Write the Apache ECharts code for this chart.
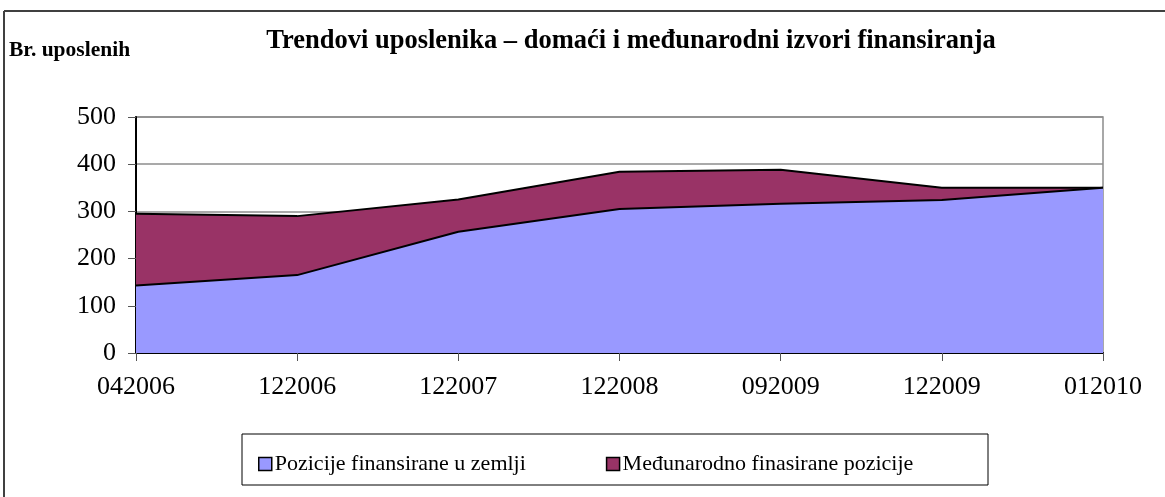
<!DOCTYPE html>
<html>
<head>
<meta charset="utf-8">
<script src="https://cdn.jsdelivr.net/npm/echarts@6/dist/echarts.min.js"></script>
<style>
  html, body { margin: 0; padding: 0; background: #fff; }
  #chart { width: 1165px; height: 497px; }
</style>
</head>
<body>
<div id="chart"></div>
<script>
// Employment periods (MMYYYY) and headcount by funding source
const categories = ['042006', '122006', '122007', '122008', '092009', '122009', '012010'];
const domesticPositions = [143, 165, 257, 305, 316, 324, 350];
const internationalPositions = [152, 125, 68, 79, 72, 26, 0];
const yTicks = { min: 0, max: 500, interval: 100 };

const seriesNames = ['Pozicije finansirane u zemlji', 'Međunarodno finasirane pozicije'];
const serif = '"Liberation Serif", "Times New Roman", serif';

const chart = echarts.init(document.getElementById('chart'), null, { renderer: 'canvas' });

chart.setOption({
  animation: false,
  backgroundColor: '#fff',
  title: {
    text: 'Trendovi uposlenika – domaći i međunarodni izvori finansiranja',
    left: 626,
    textAlign: 'center',
    top: 23,
    textStyle: { fontFamily: serif, fontSize: 26.5, fontWeight: 'bold', color: '#000' }
  },
  grid: {
    left: 136, top: 117, width: 967, height: 236,
    show: true, borderColor: '#8c8c8c', borderWidth: 1.5, backgroundColor: '#fff'
  },
  legend: {
    left: 253, top: 448,
    itemGap: 80,
    itemWidth: 13, itemHeight: 13,
    icon: 'rect',
    itemStyle: { borderColor: '#000', borderWidth: 1.5 },
    textStyle: { fontFamily: serif, fontSize: 22, color: '#000', padding: [0, 0, 0, -2] },
    data: seriesNames
  },
  xAxis: {
    type: 'category',
    data: categories,
    boundaryGap: false,
    axisLine: { lineStyle: { color: '#000', width: 2 } },
    axisTick: { show: true, length: 8, lineStyle: { color: '#555', width: 1 } },
    axisLabel: { fontFamily: serif, fontSize: 26, color: '#000', margin: 21, interval: 0 },
    splitLine: { show: false }
  },
  yAxis: {
    type: 'value',
    min: yTicks.min, max: yTicks.max, interval: yTicks.interval,
    axisLine: { show: true, lineStyle: { color: '#000', width: 2 } },
    axisTick: { show: true, length: 8, lineStyle: { color: '#555', width: 1 } },
    axisLabel: { fontFamily: serif, fontSize: 26, color: '#000', margin: 20 },
    splitLine: { lineStyle: { color: '#8c8c8c', width: 1.5 } }
  },
  graphic: [
    // outer frame (top and left edges)
    { type: 'line', shape: { x1: 4, y1: 11, x2: 1165, y2: 11 }, style: { stroke: '#404040', lineWidth: 2 } },
    { type: 'line', shape: { x1: 4, y1: 11, x2: 4, y2: 497 }, style: { stroke: '#404040', lineWidth: 2 } },
    // y-axis caption
    { type: 'text', left: 9, top: 39,
      style: { text: 'Br. uposlenih', font: 'bold 21.5px ' + serif, fill: '#000' } },
    // legend box
    { type: 'rect', shape: { x: 242, y: 434, width: 746, height: 51 },
      style: { fill: 'none', stroke: '#000', lineWidth: 1 }, z: -1 }
  ],
  series: [
    {
      name: seriesNames[0],
      type: 'line',
      stack: 'total',
      data: domesticPositions,
      symbol: 'none',
      z: 4,
      itemStyle: { color: '#9999FF' },
      lineStyle: { color: '#000', width: 2 },
      areaStyle: { color: '#9999FF', opacity: 1 }
    },
    {
      name: seriesNames[1],
      type: 'line',
      stack: 'total',
      data: internationalPositions,
      symbol: 'none',
      z: 3,
      itemStyle: { color: '#993366' },
      lineStyle: { color: '#000', width: 2 },
      areaStyle: { color: '#993366', opacity: 1 }
    }
  ]
});
</script>
</body>
</html>
